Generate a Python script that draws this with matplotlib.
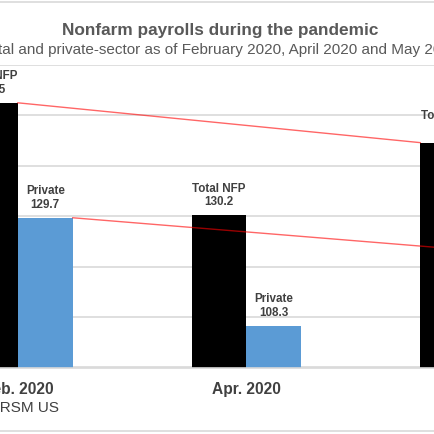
import matplotlib
matplotlib.use('Agg')
import matplotlib.pyplot as plt
import numpy as np

plt.rcParams['font.family'] = ['Liberation Sans', 'DejaVu Sans']

# ── Data ─────────────────────────────────────────────
months = ["Feb. 2020", "Apr. 2020", "May 2020"]
total_nfp = [152.5, 130.2, 144.6]
private = [129.7, 108.3, 123.2]
series_names = ["Total NFP", "Private"]

TXT = "#404040"
GRID = "#d9d9d9"
W = 435.0

fig = plt.figure(figsize=(4.35, 4.35), dpi=100, facecolor="white")

# plot area is wider than the visible crop
ax = fig.add_axes([-96.5 / W, 66.5 / W, 686 / W, 302.5 / W])
x = np.arange(len(months))
bw = 0.24
ax.bar(x - bw / 2, total_nfp, width=bw, color="#000000", zorder=2)
ax.bar(x + bw / 2, private, width=bw, color="#5b9bd5", zorder=2)

for i in range(len(months)):
    ax.text(x[i] - bw / 2, total_nfp[i] + 1.6, f"{series_names[0]}\n{total_nfp[i]:.1f}",
            ha="center", va="bottom", fontsize=8.4, weight="bold", color=TXT,
            linespacing=1.15)
    ax.text(x[i] + bw / 2, private[i] + 1.6, f"{series_names[1]}\n{private[i]:.1f}",
            ha="center", va="bottom", fontsize=8.4, weight="bold", color=TXT,
            linespacing=1.15)

# trend lines Feb -> May
ax.plot([x[0], x[2] - bw], [total_nfp[0], total_nfp[2]], color="#ff0000", lw=1.0,
        alpha=0.6, zorder=3)
ax.plot([x[0] + bw, x[2]], [private[0], private[2]], color="#ff0000", lw=1.0,
        alpha=0.6, zorder=3)

ax.set_xlim(-0.5, 2.5)
ax.set_ylim(100, 160)
ax.set_yticks(np.arange(100, 161, 10))
ax.yaxis.grid(True, color=GRID, lw=1.2, zorder=0)
ax.set_axisbelow(True)
ax.set_yticklabels([])
ax.tick_params(axis="y", length=0)
ax.set_xticks(x)
ax.set_xticklabels(months, fontsize=11.2, weight="bold", color=TXT)
ax.tick_params(axis="x", length=0, pad=9.5)
for sp in ["top", "right", "left"]:
    ax.spines[sp].set_visible(False)
ax.spines["bottom"].set_color(GRID)
ax.spines["bottom"].set_linewidth(1.2)

fig.text(220 / W, 1 - 30 / W, "Nonfarm payrolls during the pandemic", ha="center",
         va="center", fontsize=12.4, weight="bold", color="#595959")
fig.text(220 / W, 1 - 50 / W,
         "Total and private-sector as of February 2020, April 2020 and May 2020",
         ha="center", va="center", fontsize=11.0, color="#595959")
fig.text(-57 / W, 1 - 408 / W, "Source: RSM US", ha="left", va="center",
         fontsize=11, color="#404040")

# chart frame lines
fig.add_artist(plt.Line2D([0, 1], [1 - 3 / W, 1 - 3 / W], color=GRID, lw=1.2))
fig.add_artist(plt.Line2D([0, 1], [1 - 431.5 / W, 1 - 431.5 / W], color=GRID, lw=1.2))

fig.savefig("out.png", dpi=100, facecolor="white")
